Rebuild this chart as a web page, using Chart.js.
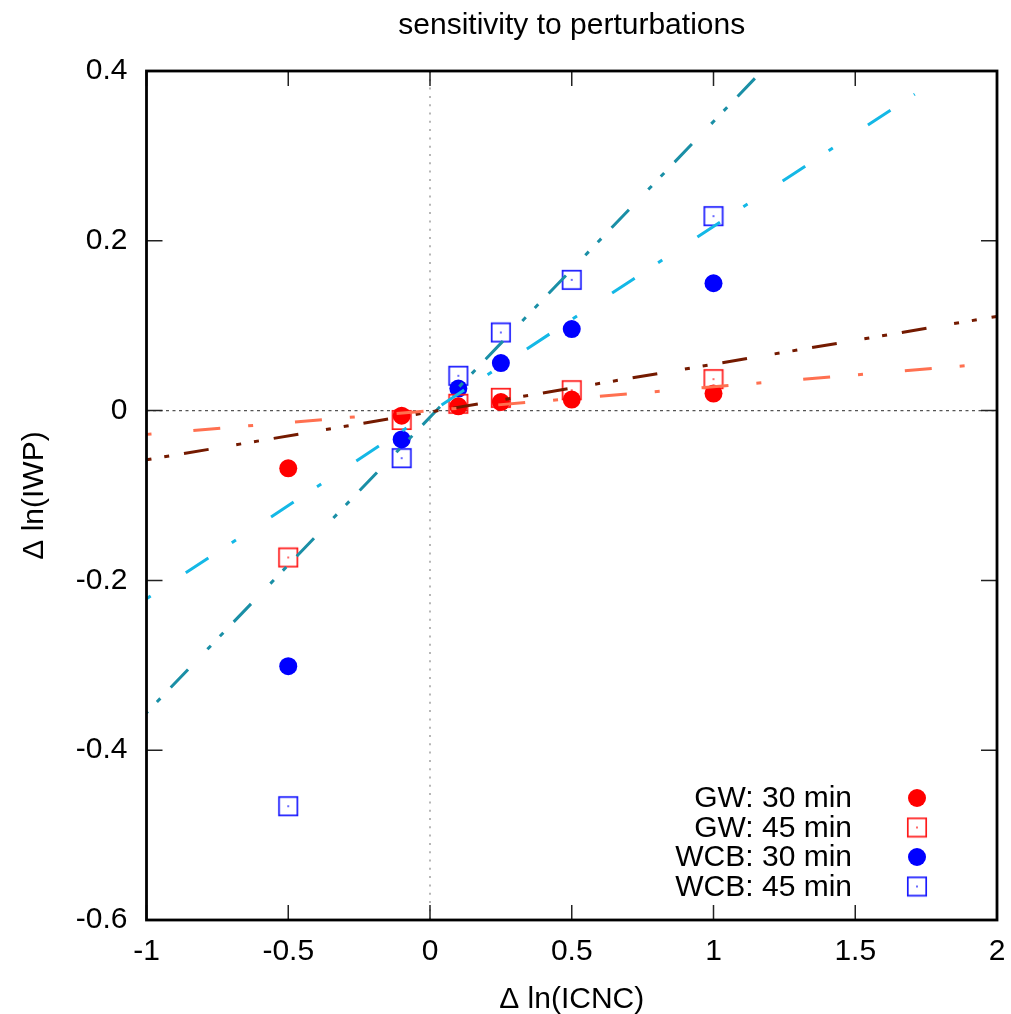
<!DOCTYPE html>
<html>
<head>
<meta charset="utf-8">
<script src="https://cdn.jsdelivr.net/npm/chart.js@4.4.1/dist/chart.umd.min.js"></script>
<style>
  html, body { margin: 0; padding: 0; background: #fff; }
  #wrap { width: 1011px; height: 1014px; }
</style>
</head>
<body>
<div id="wrap"><canvas id="sensChart" width="1011" height="1014"></canvas></div>
<script>
// data
const dx = [-0.5, -0.1, 0.1, 0.25, 0.5, 1.0];
const gw30 = [-0.068, -0.006, 0.005, 0.010, 0.013, 0.020];
const gw45 = [-0.173, -0.011, 0.008, 0.015, 0.024, 0.037];
const wcb30 = [-0.301, -0.034, 0.026, 0.056, 0.096, 0.150];
const wcb45 = [-0.466, -0.056, 0.041, 0.092, 0.154, 0.229];

// fitted lines (end points)
const fitGW30X = [-1, 2], fitGW30Y = [-0.028, 0.056];
const fitGW45X = [-1, 2], fitGW45Y = [-0.058, 0.111];
const fitWCB30X = [-1, 1.71], fitWCB30Y = [-0.2215, 0.3726];
const fitWCB45X = [-1, 1.171], fitWCB45Y = [-0.356, 0.4];

const xTicks = [-1, -0.5, 0, 0.5, 1, 1.5, 2];
const yTicks = [-0.6, -0.4, -0.2, 0, 0.2, 0.4];
const legendLabels = ['GW: 30 min', 'GW: 45 min', 'WCB: 30 min', 'WCB: 45 min'];

const FONT = "'Liberation Sans', Arial, Helvetica, sans-serif";
const FS = 30;

function pts(xs, ys) { return xs.map((x, i) => ({ x: x, y: ys[i] })); }
function fmt(v) { return String(Number(v.toFixed(2))); }

// open square with a small dot in the middle (gnuplot pt 4 look)
function squareMark(color) {
    const c = document.createElement('canvas');
    c.width = 22; c.height = 22;
    const g = c.getContext('2d');
    g.strokeStyle = color;
    g.lineWidth = 1.7;
    g.strokeRect(1.8, 1.8, 18.4, 18.4);
    g.fillStyle = color;
    g.fillRect(10.2, 10.2, 1.6, 1.6);
    return c;
}
const redSq = squareMark('#ff1a1a');
const blueSq = squareMark('#1a1aff');

const dashDot = [27, 28, 5, 42];
const dashDotDot = [25, 28, 5, 13, 5, 15];

function fitLine(data, color, dash, offset) {
    return { data, showLine: true, borderColor: color, borderWidth: 3, borderDash: dash,
        borderDashOffset: offset, pointRadius: 0, fill: false, order: 0 };
}

const decor = {
    id: 'decor',
    beforeDatasetsDraw(chart) {
        const { ctx, chartArea: a, scales: { x, y } } = chart;
        ctx.save();
        ctx.lineWidth = 1.2;
        // zero lines
        ctx.strokeStyle = '#555';
        ctx.setLineDash([3, 3.5]);
        const y0 = y.getPixelForValue(0);
        ctx.beginPath(); ctx.moveTo(a.left, y0); ctx.lineTo(a.right, y0); ctx.stroke();
        ctx.strokeStyle = '#888';
        ctx.setLineDash([2, 6.3]);
        const x0 = x.getPixelForValue(0);
        ctx.beginPath(); ctx.moveTo(x0, a.top); ctx.lineTo(x0, a.bottom); ctx.stroke();
        ctx.restore();
    },
    afterDatasetsDraw(chart) {
        const { ctx, chartArea: a, scales: { x, y } } = chart;
        ctx.save();
        // inward ticks on all sides
        ctx.strokeStyle = '#222';
        ctx.lineWidth = 1.5;
        ctx.beginPath();
        xTicks.forEach(v => {
            const p = x.getPixelForValue(v);
            ctx.moveTo(p, a.bottom); ctx.lineTo(p, a.bottom - 15);
            ctx.moveTo(p, a.top); ctx.lineTo(p, a.top + 15);
        });
        yTicks.forEach(v => {
            const p = y.getPixelForValue(v);
            ctx.moveTo(a.left, p); ctx.lineTo(a.left + 16, p);
            ctx.moveTo(a.right, p); ctx.lineTo(a.right - 16, p);
        });
        ctx.stroke();
        // frame
        ctx.strokeStyle = '#000';
        ctx.lineWidth = 2.8;
        ctx.strokeRect(a.left, a.top, a.right - a.left, a.bottom - a.top);

        // texts
        ctx.fillStyle = '#000';
        ctx.font = FS + 'px ' + FONT;
        ctx.textAlign = 'center';
        ctx.textBaseline = 'alphabetic';
        ctx.fillText('sensitivity to perturbations', (a.left + a.right) / 2, 34);
        ctx.fillText('\u0394 ln(ICNC)', (a.left + a.right) / 2, 1008);
        ctx.save();
        ctx.translate(43, (a.top + a.bottom) / 2);
        ctx.rotate(-Math.PI / 2);
        ctx.fillText('\u0394 ln(IWP)', 0, 0);
        ctx.restore();

        // legend
        ctx.textAlign = 'right';
        ctx.textBaseline = 'middle';
        const rowY = [798, 827.5, 857, 886.5];
        const marks = chart.data.datasets.filter(d => d.legendIndex !== undefined);
        marks.forEach(d => {
            const ry = rowY[d.legendIndex];
            ctx.fillStyle = '#000';
            ctx.fillText(legendLabels[d.legendIndex], 852, ry + 1);
            ctx.fillStyle = d.backgroundColor;
            Chart.helpers.drawPoint(ctx, { pointStyle: d.pointStyle, radius: d.pointRadius, rotation: 0, borderWidth: 0 }, 917, ry);
        });
        ctx.restore();
    }
};

new Chart(document.getElementById('sensChart'), {
    type: 'scatter',
    data: {
        datasets: [
            { data: pts(dx, gw30), pointStyle: 'circle', pointRadius: 9, backgroundColor: '#ff0000', borderWidth: 0, order: 1, legendIndex: 0 },
            { data: pts(dx, gw45), pointStyle: redSq, pointRadius: 9, backgroundColor: '#ff1a1a', borderWidth: 0, order: 1, legendIndex: 1 },
            { data: pts(dx, wcb30), pointStyle: 'circle', pointRadius: 9, backgroundColor: '#0000ff', borderWidth: 0, order: 1, legendIndex: 2 },
            { data: pts(dx, wcb45), pointStyle: blueSq, pointRadius: 9, backgroundColor: '#1a1aff', borderWidth: 0, order: 1, legendIndex: 3 },
            fitLine(pts(fitGW30X, fitGW30Y), '#ff7050', dashDot, 55),
            fitLine(pts(fitGW45X, fitGW45Y), '#741a00', dashDotDot, 53),
            fitLine(pts(fitWCB30X, fitWCB30Y), '#14b8e6', dashDot, 55),
            fitLine(pts(fitWCB45X, fitWCB45Y), '#1a8fa6', dashDotDot, 56)
        ]
    },
    options: {
        responsive: false,
        animation: false,
        events: [],
        layout: { padding: { top: 71, right: 14, left: 0, bottom: 0 } },
        plugins: { legend: { display: false }, tooltip: { enabled: false }, title: { display: false } },
        scales: {
            x: {
                type: 'linear', min: -1, max: 2,
                afterFit: s => { s.height = 94; s.paddingLeft = 0; s.paddingRight = 0; },
                afterBuildTicks: s => { s.ticks = xTicks.map(v => ({ value: v })); },
                grid: { display: false, drawTicks: false },
                border: { display: false },
                ticks: { color: '#000', padding: 14, maxRotation: 0, callback: fmt, font: { family: FONT, size: FS } }
            },
            y: {
                type: 'linear', min: -0.6, max: 0.4,
                afterFit: s => { s.width = 146.5; s.paddingTop = 0; s.paddingBottom = 0; },
                afterBuildTicks: s => { s.ticks = yTicks.map(v => ({ value: v })); },
                grid: { display: false, drawTicks: false },
                border: { display: false },
                ticks: { color: '#000', padding: 19, callback: fmt, font: { family: FONT, size: FS } }
            }
        }
    },
    plugins: [decor]
});
</script>
</body>
</html>
